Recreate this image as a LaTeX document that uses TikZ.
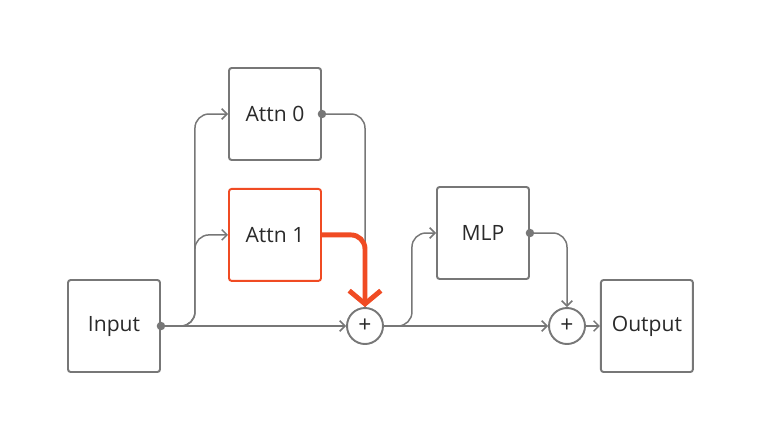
\documentclass[tikz,border=0pt]{standalone}
\usepackage{fontspec}
\setmainfont{Open Sans}
\usepackage{xcolor}
\usepackage{tikz}
\usetikzlibrary{positioning,arrows.meta}
\definecolor{linegray}{HTML}{777777}
\definecolor{hotred}{HTML}{F04B23}
\definecolor{inkgray}{HTML}{2A2A2A}

\begin{document}
\begin{tikzpicture}[x=0.02cm, y=-0.02cm,
  block/.style={draw=linegray, line width=1.1pt, rounded corners=1.5pt, minimum size=1.84cm, inner sep=0pt, text=inkgray, font=\fontsize{12}{14}\selectfont},
  plus/.style={circle, draw=linegray, line width=1.1pt, minimum size=0.72cm, inner sep=0pt, text=inkgray, font=\fontsize{13}{14}\selectfont},
  wire/.style={linegray, line width=0.85pt},
  arr/.style={wire, -{Straight Barb[length=3pt, width=6pt]}},
  hot/.style={hotred, line width=2.8pt, -{Straight Barb[length=7.5pt, width=18pt]}},
  dot/.style={circle, fill=linegray, inner sep=0pt, minimum size=0.17cm}]
\useasboundingbox (0,0) rectangle (761,441);

\node[block] (in) at (114,326) {Input};
\node[block] (a0) at (275,114) {Attn 0};
\node[block, draw=hotred, below=0.54cm of a0] (a1) {Attn 1};
\node[plus] (p1) at (365,326) {+};
\node[block] (mlp) at (483,233) {MLP};
\node[plus] (p2) at (567,326) {+};
\node[block, right=0.28cm of p2] (out) {Output};

% residual stream
\draw[arr] (in.east) -- (p1.west);
\draw[arr] (p1.east) -- (p2.west);
\draw[arr] (p2.east) -- (out.west);

% heads
\draw[arr, rounded corners=8pt] (in.east) -- ++(34,0) |- (a0.west);
\draw[arr, rounded corners=8pt] (in.east) -- ++(34,0) |- (a1.west);
\draw[wire, rounded corners=8pt] (a0.east) -| (p1.north);
\draw[hot, rounded corners=8pt] (a1.east) -| (p1.north);

% mlp
\draw[arr, rounded corners=8pt] (p1.east) -- ++(28,0) |- (mlp.west);
\draw[arr, rounded corners=8pt] (mlp.east) -| (p2.north);

\node[dot] (d0) at (in.east) {};
\node[dot] (d1) at (a0.east) {};
\node[dot] (d2) at (mlp.east) {};
\end{tikzpicture}
\end{document}
